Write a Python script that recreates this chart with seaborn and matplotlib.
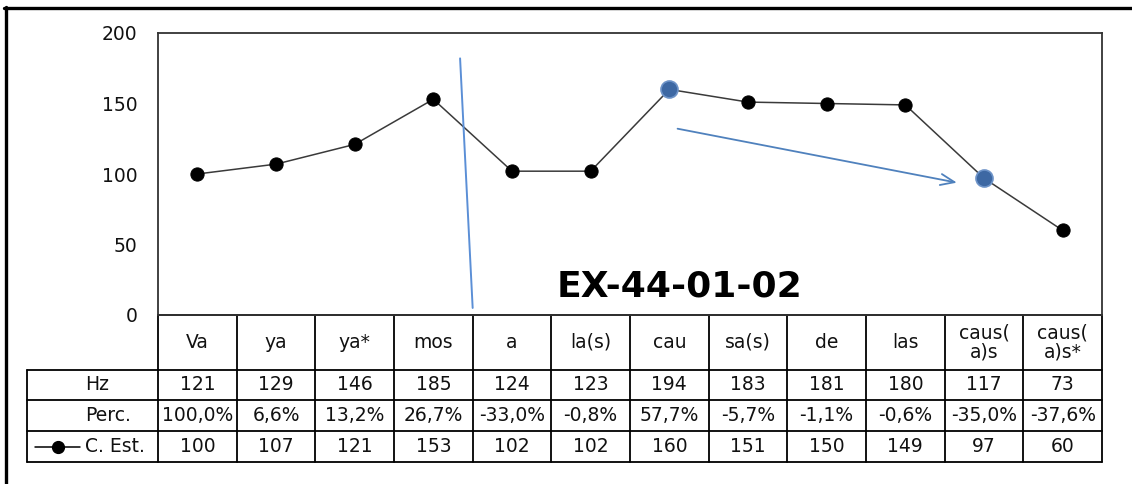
import matplotlib
matplotlib.use("Agg")
import matplotlib.pyplot as plt
import matplotlib.transforms as mtransforms
from matplotlib.lines import Line2D
import seaborn as sns
import pandas as pd

# ---------------- data ----------------
categories = ["Va", "ya", "ya*", "mos", "a", "la(s)", "cau", "sa(s)", "de", "las",
              "caus(\na)s", "caus(\na)s*"]
hz_values = [121, 129, 146, 185, 124, 123, 194, 183, 181, 180, 117, 73]
perc_labels = ["100,0%", "6,6%", "13,2%", "26,7%", "-33,0%", "-0,8%", "57,7%",
               "-5,7%", "-1,1%", "-0,6%", "-35,0%", "-37,6%"]
c_est = [100, 107, 121, 153, 102, 102, 160, 151, 150, 149, 97, 60]
highlight_idx = [6, 10]
y_ticks = [0, 50, 100, 150, 200]
title_text = "EX-44-01-02"

# ---------------- style ----------------
sns.set_style("white")
plt.rcParams["font.family"] = ["DejaVu Sans"]

W, H = 1132, 484
fig = plt.figure(figsize=(W / 100, H / 100), dpi=100)
fig.patch.set_facecolor("white")

ax_l, ax_r, ax_t, ax_b = 158, 1102, 33, 315
ax = fig.add_axes([ax_l / W, 1 - ax_b / H, (ax_r - ax_l) / W, (ax_b - ax_t) / H])

df = pd.DataFrame({"pos": range(len(categories)), "val": c_est})
sns.lineplot(data=df, x="pos", y="val", ax=ax, color="#3a3a3a", linewidth=1.1,
             marker="o", markersize=9.5, markerfacecolor="black",
             markeredgecolor="black", zorder=3)
hl = df.iloc[highlight_idx]
sns.scatterplot(data=hl, x="pos", y="val", ax=ax, s=150, color="#3d68a3",
                edgecolor="#6d93c8", linewidth=1.2, zorder=4, legend=False)

ax.set_xlim(-0.5, len(categories) - 0.5)
ax.set_ylim(0, 200)
ax.set_yticks(y_ticks)
ax.set_xticks([])
ax.set_xlabel("")
ax.set_ylabel("")
ax.tick_params(axis="y", length=0, pad=15, labelsize=13.5, labelcolor="#111111")
for s in ax.spines.values():
    s.set_visible(True)
    s.set_color("#333333")
    s.set_linewidth(1.3)

# annotations (blue hand-drawn marks)
ax.plot([3.34, 3.50], [182, 5], color="#5b8fd6", lw=1.4, zorder=5, clip_on=False)
ax.annotate("", xy=(9.69, 93.5), xytext=(6.07, 132.5),
            arrowprops=dict(arrowstyle="->,head_length=1.0,head_width=0.4",
                            color="#4f81bd", lw=1.3), zorder=5)
ax.text(6.13, 20, title_text, ha="center", va="center", fontsize=26,
        fontweight="bold", color="black")

# ---------------- data table ----------------
tr = mtransforms.blended_transform_factory(ax.transData, ax.transAxes)
px_per_unit = (ax_r - ax_l) / len(categories)
def fy(py):
    return (ax_b - py) / (ax_b - ax_t)
def fx(px):
    return -0.5 + (px - ax_l) / px_per_unit

rows_px = [315, 370, 400, 431, 462]
rows = [fy(p) for p in rows_px]
x_left = fx(27)
x_right = len(categories) - 0.5
lc = "black"
lw_t = 1.3
# vertical lines
for i in range(len(categories) + 1):
    ax.add_line(Line2D([i - 0.5, i - 0.5], [rows[0], rows[-1]], transform=tr,
                       color=lc, lw=lw_t, clip_on=False))
ax.add_line(Line2D([x_left, x_left], [rows[1], rows[-1]], transform=tr,
                   color=lc, lw=lw_t, clip_on=False))
# horizontal lines
ax.add_line(Line2D([-0.5, x_right], [rows[0], rows[0]], transform=tr,
                   color=lc, lw=lw_t, clip_on=False))
for r in rows[1:]:
    ax.add_line(Line2D([x_left, x_right], [r, r], transform=tr,
                       color=lc, lw=lw_t, clip_on=False))

fs = 13.5
row_mid = [(rows[i] + rows[i + 1]) / 2 for i in range(4)]
for i, c in enumerate(categories):
    ax.text(i, row_mid[0], c, transform=tr, ha="center", va="center",
            fontsize=fs, linespacing=1.0, color="#111111")
    ax.text(i, row_mid[1], str(hz_values[i]), transform=tr, ha="center",
            va="center", fontsize=fs, color="#111111")
    ax.text(i, row_mid[2], perc_labels[i], transform=tr, ha="center",
            va="center", fontsize=fs, color="#111111")
    ax.text(i, row_mid[3], str(c_est[i]), transform=tr, ha="center",
            va="center", fontsize=fs, color="#111111")

label_x = fx(85)
ax.text(label_x, row_mid[1], "Hz", transform=tr, ha="left", va="center",
        fontsize=fs, color="#111111")
ax.text(label_x, row_mid[2], "Perc.", transform=tr, ha="left", va="center",
        fontsize=fs, color="#111111")
ax.text(label_x, row_mid[3], "C. Est.", transform=tr, ha="left", va="center",
        fontsize=fs, color="#111111")
ax.add_line(Line2D([fx(35), fx(80)], [row_mid[3], row_mid[3]], transform=tr,
                   color="black", lw=1.1, clip_on=False))
ax.add_line(Line2D([fx(58)], [row_mid[3]], transform=tr, marker="o",
                   markersize=8.5, color="black", clip_on=False))

# ---------------- outer frame ----------------
fig.add_artist(Line2D([4 / W, 1.0], [1 - 8 / H, 1 - 8 / H], transform=fig.transFigure,
                      color="black", lw=2.4))
fig.add_artist(Line2D([5.5 / W, 5.5 / W], [1 - 7 / H, 0.0], transform=fig.transFigure,
                      color="black", lw=2.4))

fig.savefig("out.png", dpi=100, facecolor="white")
